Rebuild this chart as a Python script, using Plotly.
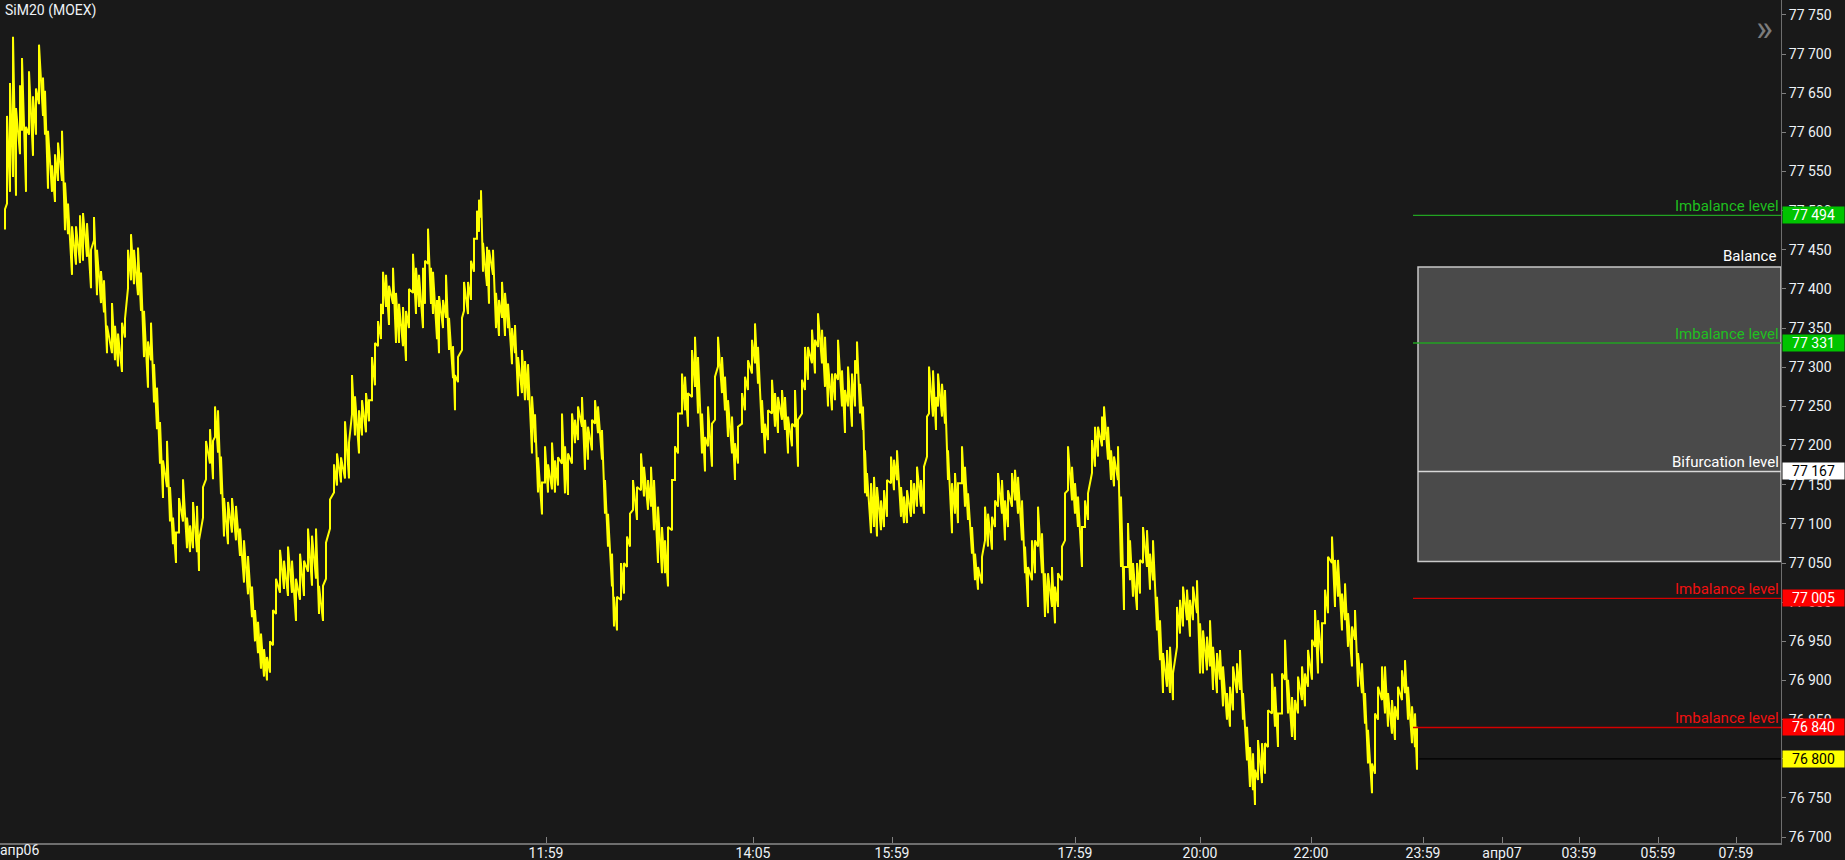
import plotly.graph_objects as go

# ---------------- data (bar position, high, low) ----------------
bar_x = [5, 7, 10, 13, 16, 20, 22, 26, 29, 33, 36, 39, 43, 45, 48, 52, 55, 58, 62, 65,
         68, 72, 76, 80, 83, 87, 91, 94, 97, 101, 104, 107, 112, 115, 118, 122, 125, 128, 131, 134,
         138, 141, 144, 148, 151, 154, 157, 160, 163, 167, 170, 173, 176, 179, 183, 187, 190, 193, 197, 199,
         203, 206, 210, 213, 215, 218, 221, 224, 228, 232, 236, 240, 244, 248, 252,
         255, 258, 261, 264, 267, 270, 273, 276,
         280, 284, 288, 292, 296, 300, 304, 308, 312, 316, 319, 323, 326, 330, 334, 337, 341, 345, 349, 352,
         355, 359, 362, 366, 369, 372, 375, 378, 381, 383, 386, 389, 393, 396, 399, 403, 406, 409, 413, 416,
         419, 423, 425, 428, 431, 433, 437, 439, 443, 446, 449, 453, 455, 458, 462, 464, 468, 471, 474, 477,
         479, 481, 483, 487, 489, 493, 496, 499, 502, 505, 508, 512, 515, 518, 522, 525, 528, 532, 535, 538,
         542, 545, 548, 552, 555, 558,
         562, 565, 568, 572, 575, 578, 582, 585, 588, 592, 595, 598, 602, 605, 608, 612, 614, 617, 621, 624,
         627, 630, 633, 637, 641, 644, 648, 651, 654, 658, 662, 665, 668, 672, 675, 678, 682, 685, 688, 692,
         695, 698, 702, 705, 708, 712, 715, 718, 722, 725, 728, 732, 735, 738, 742, 745, 748, 752, 755, 758,
         762, 765, 768, 772, 775, 778, 782, 785, 788, 792, 795, 798, 802, 805, 808, 812, 815, 818, 822, 825,
         828, 832, 835, 838,
         842, 845, 848, 852, 855, 857, 860, 863, 865, 867, 871, 874, 877, 881, 884, 887, 891, 894, 897, 901,
         904, 907, 911, 914, 917, 921, 924, 927, 929, 933, 936, 938, 942, 945, 948, 952, 955, 958, 962, 965,
         968, 972, 975, 978, 982, 985, 988, 992, 995, 998, 1002, 1005, 1008, 1012, 1015, 1018, 1022, 1025, 1028, 1032,
         1035, 1038, 1042, 1045, 1048, 1052, 1055, 1058, 1062, 1065, 1068, 1072, 1075, 1078, 1082, 1085, 1088, 1092, 1095, 1098,
         1102, 1104, 1108, 1111, 1114, 1118, 1121, 1124, 1128,
         1130, 1133, 1137, 1140, 1143, 1147, 1150, 1153, 1157, 1160, 1163, 1167, 1170, 1173, 1177, 1180, 1183, 1187, 1190, 1193,
         1197, 1200, 1203, 1207, 1210, 1213, 1217, 1220, 1223, 1227, 1230, 1233, 1237, 1240, 1243, 1247, 1250, 1253, 1255, 1258,
         1262, 1265, 1268, 1272, 1275, 1278, 1282, 1285, 1288, 1292, 1295, 1298, 1302, 1305, 1308, 1312, 1315, 1318, 1322, 1325,
         1328, 1332, 1335, 1338, 1342, 1345, 1348, 1352, 1355, 1358, 1362, 1365, 1368, 1372, 1375, 1378, 1382, 1385, 1388, 1392,
         1395, 1398, 1402, 1405, 1408, 1412, 1415, 1417]

bar_high = [77502, 77621, 77663, 77722, 77631, 77660, 77695, 77607, 77678, 77646, 77656, 77712, 77670, 77653, 77602, 77558, 77572, 77587, 77602, 77536,
            77509, 77480, 77480, 77494, 77497, 77484, 77450, 77492, 77450, 77423, 77411, 77353, 77382, 77353, 77343, 77357, 77362, 77450, 77470, 77450,
            77453, 77421, 77372, 77333, 77357, 77304, 77274, 77230, 77181, 77206, 77147, 77108, 77089, 77133, 77157, 77108, 77098, 77128, 77123, 77079,
            77147, 77206, 77221, 77206, 77250, 77245, 77186, 77133, 77128, 77133, 77123, 77094, 77079, 77059, 77020,
            76990, 76975, 76960, 76940, 76930, 76950, 76990, 77030,
            77067, 77053, 77071, 77053, 77030, 77062, 77053, 77094, 77085, 77094, 77021, 77021, 77076, 77131, 77176, 77190, 77185, 77231, 77204, 77290,
            77263, 77245, 77258, 77267, 77258, 77313, 77331, 77359, 77381, 77422, 77418, 77404, 77427, 77395, 77381, 77377, 77372, 77400, 77445, 77427,
            77418, 77427, 77436, 77477, 77427, 77422, 77386, 77391, 77386, 77418, 77363, 77327, 77290, 77313, 77363, 77409, 77409, 77436, 77464, 77500,
            77514, 77526, 77459, 77454, 77450, 77450, 77395, 77386, 77409, 77395, 77381, 77350, 77354, 77313, 77322, 77308, 77304, 77263, 77240, 77185,
            77153, 77199, 77176, 77204, 77181, 77185,
            77241, 77199, 77190, 77241, 77233, 77250, 77262, 77233, 77224, 77233, 77258, 77250, 77220, 77156, 77113, 77062, 77007, 77007, 77050, 77050,
            77084, 77113, 77156, 77147, 77190, 77173, 77156, 77173, 77156, 77122, 77096, 77079, 77096, 77156, 77199, 77241, 77292, 77288, 77267, 77322,
            77339, 77313, 77241, 77211, 77250, 77228, 77288, 77339, 77313, 77288, 77258, 77237, 77203, 77224, 77267, 77288, 77309, 77335, 77356, 77326,
            77258, 77228, 77245, 77284, 77267, 77262, 77271, 77262, 77237, 77228, 77271, 77233, 77284, 77326, 77326, 77348, 77335, 77369, 77348, 77339,
            77305, 77292, 77292, 77335,
            77296, 77271, 77301, 77292, 77309, 77333, 77279, 77250, 77194, 77165, 77152, 77160, 77147, 77130, 77143, 77156, 77186, 77182, 77194, 77147,
            77135, 77143, 77156, 77152, 77173, 77156, 77173, 77237, 77301, 77296, 77262, 77292, 77279, 77271, 77194, 77152, 77165, 77152, 77199, 77173,
            77139, 77096, 77062, 77045, 77058, 77122, 77113, 77109, 77130, 77165, 77156, 77130, 77143, 77165, 77169, 77160, 77130, 77071, 77045, 77079,
            77079, 77122, 77088, 77037, 77037, 77045, 77020, 77037, 77071, 77139, 77199, 77173, 77152, 77135, 77096, 77130, 77139, 77207, 77224, 77224,
            77237, 77250, 77224, 77194, 77186, 77199, 77135, 77045, 77101,
            77079, 77050, 77050, 77054, 77096, 77092, 77062, 77079, 77007, 76977, 76935, 76939, 76943, 76909, 76994, 77003, 77020, 77016, 77003, 77020,
            77028, 76973, 76964, 76956, 76977, 76943, 76935, 76939, 76918, 76884, 76892, 76918, 76922, 76939, 76884, 76841, 76815, 76807, 76786, 76824,
            76820, 76820, 76862, 76909, 76892, 76858, 76909, 76952, 76901, 76879, 76875, 76905, 76918, 76909, 76939, 76952, 76990, 76977, 76973, 77016,
            77058, 77084, 77054, 77054, 77011, 77024, 76986, 76969, 76990, 76935, 76922, 76884, 76837, 76794, 76858, 76892, 76918, 76918, 76884, 76875,
            76867, 76892, 76913, 76926, 76892, 76867, 76858, 76841]

bar_low = [77476, 77509, 77524, 77543, 77519, 77572, 77602, 77524, 77597, 77570, 77597, 77636, 77621, 77597, 77528, 77524, 77511, 77538, 77538, 77475,
           77470, 77418, 77431, 77433, 77436, 77441, 77401, 77462, 77392, 77382, 77370, 77318, 77318, 77309, 77301, 77294, 77338, 77401, 77411, 77406,
           77392, 77372, 77313, 77274, 77309, 77255, 77221, 77177, 77133, 77147, 77103, 77074, 77050, 77089, 77103, 77069, 77064, 77069, 77064, 77040,
           77108, 77157, 77177, 77157, 77211, 77191, 77138, 77084, 77074, 77089, 77079, 77059, 77025, 77010, 76981,
           76950, 76935, 76915, 76905, 76900, 76910, 76945, 76985,
           77012, 77017, 77008, 77012, 76976, 77003, 77008, 77039, 77021, 77030, 76985, 76976, 77030, 77094, 77140, 77149, 77153, 77158, 77158, 77240,
           77213, 77190, 77213, 77217, 77231, 77258, 77277, 77327, 77336, 77368, 77377, 77354, 77381, 77331, 77331, 77327, 77308, 77350, 77395, 77368,
           77377, 77350, 77381, 77432, 77381, 77368, 77336, 77318, 77350, 77363, 77322, 77286, 77245, 77281, 77322, 77372, 77368, 77386, 77422, 77464,
           77473, 77491, 77422, 77404, 77381, 77418, 77350, 77340, 77363, 77340, 77350, 77304, 77318, 77263, 77267, 77258, 77258, 77190, 77204, 77140,
           77112, 77153, 77140, 77144, 77140, 77149,
           77177, 77139, 77137, 77177, 77203, 77207, 77224, 77169, 77182, 77194, 77228, 77216, 77182, 77113, 77071, 77020, 76969, 76964, 77003, 77011,
           77045, 77071, 77118, 77105, 77143, 77135, 77118, 77122, 77092, 77050, 77037, 77037, 77020, 77092, 77156, 77190, 77241, 77245, 77224, 77262,
           77275, 77241, 77190, 77167, 77199, 77173, 77233, 77301, 77267, 77245, 77211, 77190, 77156, 77177, 77228, 77245, 77271, 77292, 77305, 77279,
           77216, 77190, 77207, 77241, 77224, 77216, 77233, 77220, 77190, 77199, 77224, 77173, 77241, 77271, 77284, 77305, 77292, 77326, 77305, 77275,
           77250, 77245, 77258, 77284,
           77250, 77216, 77250, 77224, 77250, 77292, 77241, 77220, 77139, 77135, 77088, 77096, 77084, 77092, 77096, 77109, 77152, 77143, 77156, 77109,
           77101, 77101, 77109, 77113, 77122, 77122, 77113, 77186, 77241, 77237, 77220, 77250, 77237, 77228, 77156, 77088, 77113, 77101, 77152, 77122,
           77105, 77062, 77028, 77016, 77024, 77079, 77071, 77067, 77096, 77122, 77113, 77079, 77096, 77122, 77130, 77113, 77079, 77037, 76994, 77028,
           77037, 77071, 77037, 76981, 76986, 76994, 76973, 76994, 77028, 77079, 77143, 77130, 77113, 77096, 77045, 77096, 77105, 77165, 77173, 77186,
           77199, 77207, 77182, 77156, 77148, 77156, 77045, 76990, 77045,
           77028, 77007, 76990, 77011, 77050, 77045, 77016, 77028, 76964, 76926, 76884, 76892, 76884, 76875, 76943, 76960, 76969, 76977, 76956, 76977,
           76986, 76909, 76909, 76913, 76918, 76888, 76884, 76901, 76867, 76850, 76841, 76862, 76884, 76888, 76850, 76798, 76764, 76760, 76741, 76773,
           76769, 76781, 76815, 76858, 76841, 76815, 76858, 76901, 76858, 76828, 76824, 76858, 76875, 76867, 76892, 76901, 76943, 76909, 76922, 76973,
           76986, 77050, 76994, 77007, 76964, 76977, 76943, 76918, 76952, 76892, 76884, 76845, 76794, 76756, 76781, 76850, 76875, 76858, 76841, 76832,
           76824, 76850, 76875, 76884, 76850, 76820, 76815, 76786]

# time axis labels (positions in bar units)
tick_pos = [546, 753, 892, 1075, 1200, 1311, 1423, 1502, 1579, 1658, 1736]
tick_text = ["11:59", "14:05", "15:59", "17:59", "20:00", "22:00", "23:59", "апр07", "03:59", "05:59", "07:59"]
first_day_label = "апр06"

# levels
imbalance_levels = [77494, 77331, 77005, 76840]
imbalance_kind = ["up", "up", "down", "down"]
balance_top = 77428
balance_bottom = 77052
bifurcation_level = 77167
last_price = 76800

x_max = 1781
y_min, y_max = 76692.5, 77769
levels_start = 1413
box_start = 1418
last_start = 1419

# ---------------- styles ----------------
BG = "#191919"
FONT = "Roboto, 'Open Sans', sans-serif"
TXT = "#eef2f6"
GREEN_LINE, GREEN_TXT, GREEN_BOX = "#22a322", "#1fbf1f", "#00c400"
RED_LINE, RED_TXT, RED_BOX = "#d40000", "#f01010", "#ff0000"

xs, ys = [], []
for x, h, l in zip(bar_x, bar_high, bar_low):
    xs += [x, x]
    ys += [l, h]

fig = go.Figure()
fig.add_trace(go.Scatter(x=xs, y=ys, mode="lines",
                         line=dict(color="#ffff00", width=2),
                         hoverinfo="skip", showlegend=False))

shapes = []
annotations = []

# balance box
shapes.append(dict(type="rect", xref="x", yref="y", x0=box_start, x1=x_max,
                   y0=balance_bottom, y1=balance_top, fillcolor="#4a4a4a",
                   line=dict(color="#c8c8c8", width=1.5), layer="below"))
# bifurcation line
shapes.append(dict(type="line", xref="x", yref="y", x0=box_start, x1=x_max,
                   y0=bifurcation_level, y1=bifurcation_level,
                   line=dict(color="#d8d8d8", width=1.5)))
# imbalance lines
for lv, kind in zip(imbalance_levels, imbalance_kind):
    col = GREEN_LINE if kind == "up" else RED_LINE
    tcol = GREEN_TXT if kind == "up" else RED_TXT
    shapes.append(dict(type="line", xref="x", yref="y", x0=levels_start, x1=x_max,
                       y0=lv, y1=lv, line=dict(color=col, width=1.3)))
    annotations.append(dict(xref="paper", yref="y", x=1, y=lv, xanchor="right", yanchor="bottom",
                            xshift=0, yshift=-2, text="Imbalance level", showarrow=False,
                            font=dict(family=FONT, size=15, color=tcol)))
# last price line
shapes.append(dict(type="line", xref="x", yref="y", x0=last_start, x1=x_max,
                   y0=last_price, y1=last_price, line=dict(color="#000000", width=1.2)))

annotations.append(dict(xref="paper", yref="y", x=1, y=balance_top, xanchor="right", yanchor="bottom",
                        xshift=-3, yshift=0, text="Balance", showarrow=False,
                        font=dict(family=FONT, size=15, color="#ffffff")))
annotations.append(dict(xref="paper", yref="y", x=1, y=bifurcation_level, xanchor="right", yanchor="bottom",
                        xshift=0, yshift=-2, text="Bifurcation level", showarrow=False,
                        font=dict(family=FONT, size=15, color="#ffffff")))


def fmt(v):
    return f"{v:,}".replace(",", " ")


price_tags = []
for lv, kind in zip(imbalance_levels, imbalance_kind):
    price_tags.append((lv, GREEN_BOX if kind == "up" else RED_BOX, "#ffffff"))
price_tags.append((bifurcation_level, "#ffffff", "#000000"))
price_tags.append((last_price, "#ffff00", "#000000"))
for lv, bg, fg in price_tags:
    annotations.append(dict(xref="paper", yref="y", x=1, y=lv, xanchor="left", yanchor="middle",
                            xshift=1, text=fmt(lv), showarrow=False, bgcolor=bg,
                            width=61, height=16, borderpad=0, align="center",
                            font=dict(family=FONT, size=14, color=fg)))

# title, first date label and the collapse glyph
annotations.append(dict(xref="paper", yref="paper", x=0, y=1, xanchor="left", yanchor="top",
                        xshift=3, yshift=0, text="SiM20 (MOEX)", showarrow=False,
                        font=dict(family=FONT, size=14, color=TXT)))
annotations.append(dict(xref="paper", yref="paper", x=0, y=0, xanchor="left", yanchor="top",
                        xshift=-2, yshift=3, text=first_day_label, showarrow=False,
                        font=dict(family=FONT, size=14, color=TXT)))
annotations.append(dict(xref="paper", yref="paper", x=1, y=1, xanchor="right", yanchor="top",
                        xshift=-6, yshift=-6, text="»", showarrow=False,
                        font=dict(family=FONT, size=36, color="#7c7c7c")))

fig.update_layout(
    width=1845, height=860,
    margin=dict(l=0, r=64, t=0, b=17, pad=0),
    paper_bgcolor=BG, plot_bgcolor=BG,
    showlegend=False,
    separators=". ",
    font=dict(family=FONT, size=14, color=TXT),
    shapes=shapes, annotations=annotations,
    xaxis=dict(range=[0, x_max], showgrid=False, zeroline=False, showline=True,
               linecolor="#6e6e6e", linewidth=2, ticks="inside", ticklen=6, tickwidth=1,
               tickcolor="#808080", tickvals=tick_pos, ticktext=tick_text,
               ticklabelstandoff=-4,
               tickfont=dict(family=FONT, size=14, color=TXT), automargin=False, fixedrange=True),
    yaxis=dict(range=[y_min, y_max], side="right", showgrid=False, zeroline=False, showline=True,
               linecolor="#6e6e6e", linewidth=1, ticks="outside", ticklen=4, tickwidth=1,
               tickcolor="#808080", tick0=76700, dtick=50, tickformat=",d",
               tickfont=dict(family=FONT, size=14, color=TXT), automargin=False, fixedrange=True),
)

page_fix = ("document.body.style.margin='0';document.body.style.padding='0';"
            "document.body.style.background='#191919';"
            "document.documentElement.style.overflow='hidden';")
fig.write_html("out.html", config={"displayModeBar": False}, post_script=page_fix)
